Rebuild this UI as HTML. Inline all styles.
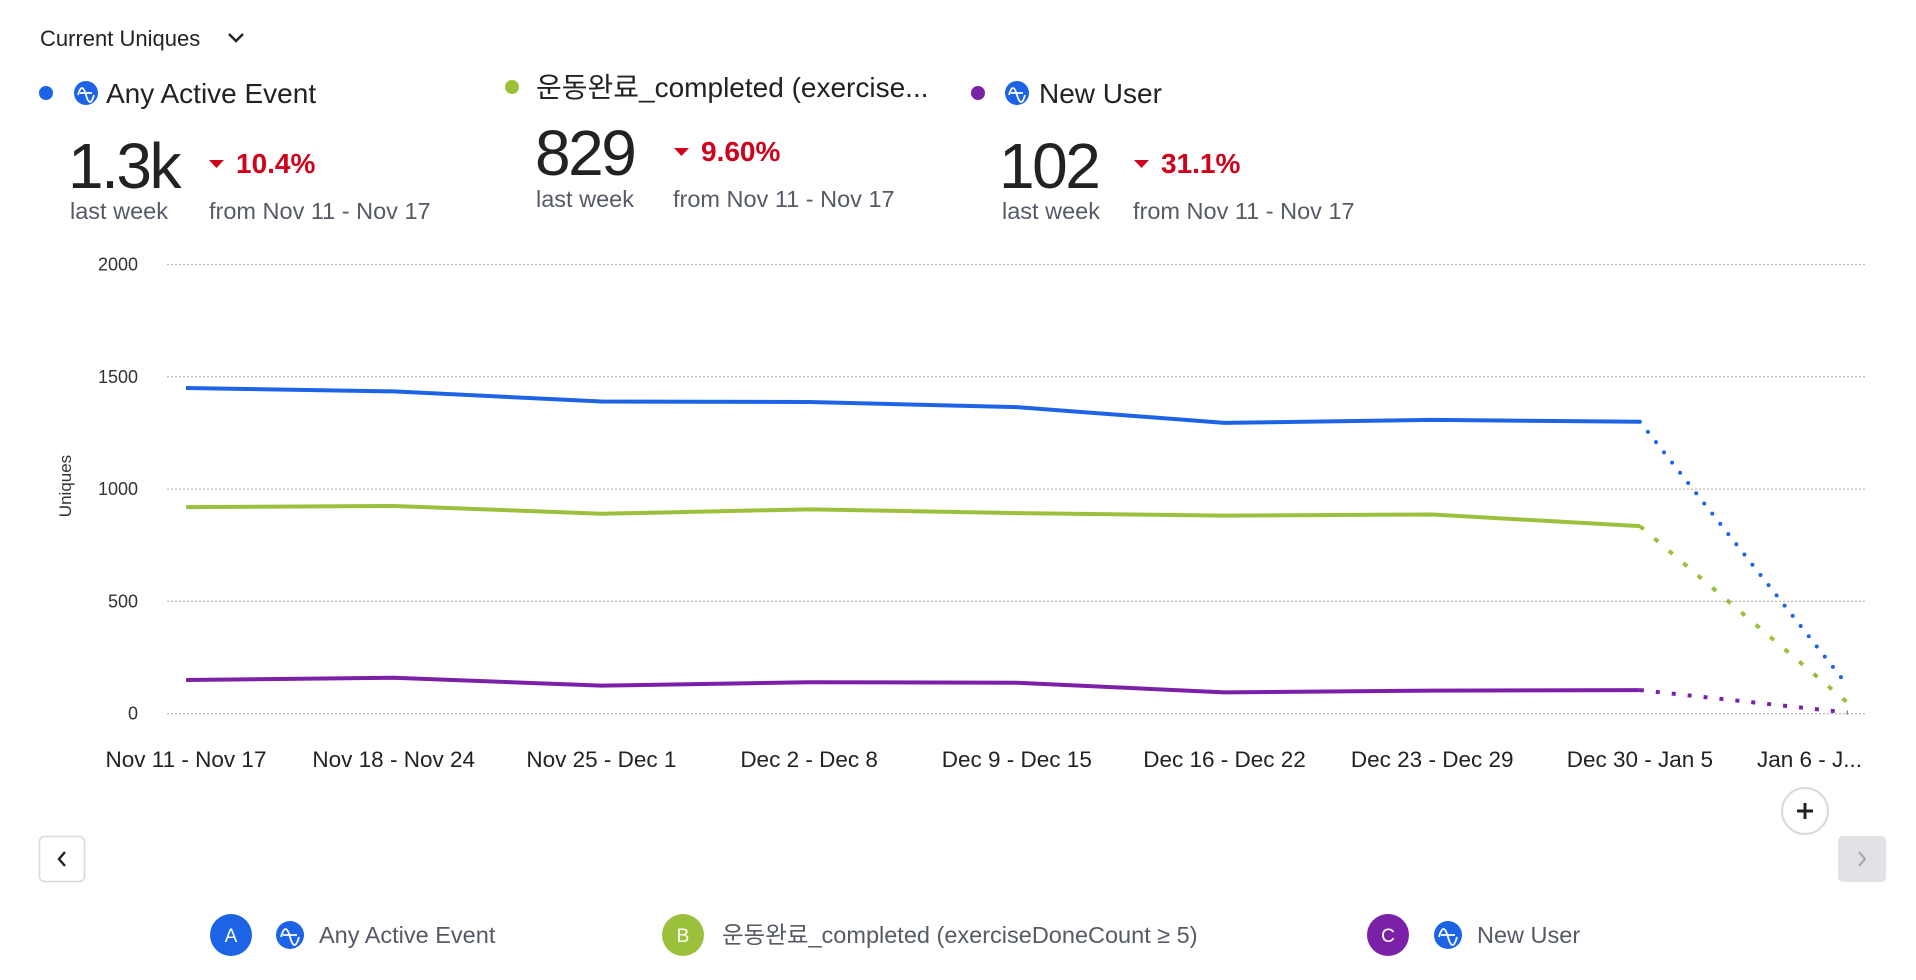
<!DOCTYPE html>
<html><head><meta charset="utf-8"><style>
html,body{margin:0;padding:0;background:#fff;}
svg{display:block;font-family:"Liberation Sans","Noto Sans CJK KR",sans-serif;}
</style></head><body>
<svg id="chart" width="1916" height="980" viewBox="0 0 1916 980">
<g>
<text x="40" y="46" font-size="22" fill="#222">Current Uniques</text>
<path d="M229 34 l7 7 l7 -7" fill="none" stroke="#222" stroke-width="2.4"/>
</g>
<g>
<circle cx="46" cy="93" r="7" fill="#1d63e6"/>
<circle cx="86" cy="93" r="12" fill="#1d63e6"/>
<path d="M78 95 q4 -14 8 0 q4 14 8 0 M80 93 h12" fill="none" stroke="#fff" stroke-width="1.8"/>
<text x="106" y="103" font-size="28" fill="#222">Any Active Event</text>
<text x="68" y="188" font-size="64" fill="#222" letter-spacing="-2.5">1.3k</text>
<path d="M209 160 h15 l-7.5 8z" fill="#d0021b"/>
<text x="236" y="173" font-size="28" fill="#d0021b" font-weight="bold">10.4%</text>
<text x="70" y="219" font-size="23.5" fill="#555a66">last week</text>
<text x="209" y="219" font-size="23.5" fill="#555a66">from Nov 11 - Nov 17</text>
</g>
<g>
<circle cx="512" cy="87" r="7" fill="#9bc13c"/>
<text x="536" y="97" font-size="28" fill="#222">운동완료_completed (exercise...</text>
<text x="535" y="175" font-size="64" fill="#222" letter-spacing="-2.5">829</text>
<path d="M674 148 h15 l-7.5 8z" fill="#d0021b"/>
<text x="701" y="161" font-size="28" fill="#d0021b" font-weight="bold">9.60%</text>
<text x="536" y="207" font-size="23.5" fill="#555a66">last week</text>
<text x="673" y="207" font-size="23.5" fill="#555a66">from Nov 11 - Nov 17</text>
</g>
<g>
<circle cx="978" cy="93" r="7" fill="#7b21a8"/>
<circle cx="1017" cy="93" r="12" fill="#1d63e6"/>
<path d="M1009 95 q4 -14 8 0 q4 14 8 0 M1011 93 h12" fill="none" stroke="#fff" stroke-width="1.8"/>
<text x="1039" y="103" font-size="28" fill="#222">New User</text>
<text x="999" y="188" font-size="64" fill="#222" letter-spacing="-2.5">102</text>
<path d="M1134 160 h15 l-7.5 8z" fill="#d0021b"/>
<text x="1161" y="173" font-size="28" fill="#d0021b" font-weight="bold">31.1%</text>
<text x="1002" y="219" font-size="23.5" fill="#555a66">last week</text>
<text x="1133" y="219" font-size="23.5" fill="#555a66">from Nov 11 - Nov 17</text>
</g>
<g id="plot"></g>
<text transform="translate(71,486) rotate(-90)" text-anchor="middle" font-size="17" fill="#333">Uniques</text>
<g>
<circle cx="1805" cy="811" r="23" fill="#fff" stroke="#d8d9dc" stroke-width="2"/>
<path d="M1797 811 h16 M1805 803 v16" stroke="#222" stroke-width="3"/>
</g>
<g>
<rect x="39.5" y="836.5" width="45" height="45" rx="5" fill="#fff" stroke="#d8d9dc" stroke-width="1.5"/>
<path d="M65 852 l-6 7 l6 7" fill="none" stroke="#222" stroke-width="2.4"/>
</g>
<g>
<rect x="1838" y="836" width="48" height="46" rx="5" fill="#e1e2e5"/>
<path d="M1859 852 l6 7 l-6 7" fill="none" stroke="#aaa" stroke-width="2.2"/>
</g>
<g>
<g>
<circle cx="231" cy="935" r="21" fill="#1d63e6"/><text x="231" y="942" text-anchor="middle" font-size="19" fill="#fff">A</text>
<circle cx="290" cy="935" r="14" fill="#1d63e6"/><path d="M281 937 q4.5 -16 9 0 q4.5 16 9 0 M283 935 h14" fill="none" stroke="#fff" stroke-width="1.8"/>
<text x="319" y="943" font-size="23.5" fill="#555a66">Any Active Event</text></g>
<g>
<circle cx="683" cy="935" r="21" fill="#9bc13c"/><text x="683" y="942" text-anchor="middle" font-size="19" fill="#fff">B</text>
<text x="722" y="943" font-size="23.5" fill="#555a66">운동완료_completed (exerciseDoneCount ≥ 5)</text></g>
<g>
<circle cx="1388" cy="935" r="21" fill="#7b21a8"/><text x="1388" y="942" text-anchor="middle" font-size="19" fill="#fff">C</text>
<circle cx="1448" cy="935" r="14" fill="#1d63e6"/><path d="M1439 937 q4.5 -16 9 0 q4.5 16 9 0 M1441 935 h14" fill="none" stroke="#fff" stroke-width="1.8"/>
<text x="1477" y="943" font-size="23.5" fill="#555a66">New User</text></g>
</g>
</svg>
<script>
const categories = ["Nov 11 - Nov 17","Nov 18 - Nov 24","Nov 25 - Dec 1","Dec 2 - Dec 8","Dec 9 - Dec 15","Dec 16 - Dec 22","Dec 23 - Dec 29","Dec 30 - Jan 5","Jan 6 - J..."];
const seriesA = [1450,1435,1390,1388,1365,1295,1308,1300,125];
const seriesB = [920,925,890,910,893,882,887,835,49];
const seriesC = [150,160,125,140,138,95,103,105,5];
const yTicks = [0,500,1000,1500,2000];
const NS="http://www.w3.org/2000/svg";
const plot=document.getElementById('plot');
const x=i=>186+i*207.7;
const y=v=>713.7-v*0.2246;
function mk(t,a){const e=document.createElementNS(NS,t);for(const k in a)e.setAttribute(k,a[k]);plot.appendChild(e);return e;}
yTicks.forEach(t=>{
  const g=mk('line',{x1:167,x2:1866,y1:y(t),y2:y(t),stroke:'#bbb','stroke-width':1.3,'stroke-dasharray':'2 2'});
  
  
  const l=mk('text',{x:138,y:y(t)+6,'text-anchor':'end','font-size':18,fill:'#333'});
  l.textContent=t;
  
  
});
categories.forEach((c,i)=>{
  const last=i===categories.length-1;
  const l=mk('text',{x:last?1862:x(i),y:767,'text-anchor':last?'end':'middle','font-size':22.5,fill:'#222'});
  l.textContent=c;
  
  
});
function series(vals,color,name,dash,cap){
  const n=vals.length-1;
  const solid=vals.slice(0,n).map((v,i)=>x(i)+','+y(v)).join(' ');
  const p=mk('polyline',{points:solid,fill:'none',stroke:color,'stroke-width':4,'stroke-linejoin':'round'});
  
  
  const d=mk('line',{x1:x(n-1),y1:y(vals[n-1]),x2:x(n),y2:y(vals[n]),stroke:color,'stroke-width':4,'stroke-dasharray':dash,'stroke-linecap':cap});
  
  
}
series(seriesA,'#1d63e6','series-a','0 13','round');
series(seriesB,'#9bc13c','series-b','5 14','butt');
series(seriesC,'#7b21a8','series-c','4 12','butt');
</script>
</body></html>
